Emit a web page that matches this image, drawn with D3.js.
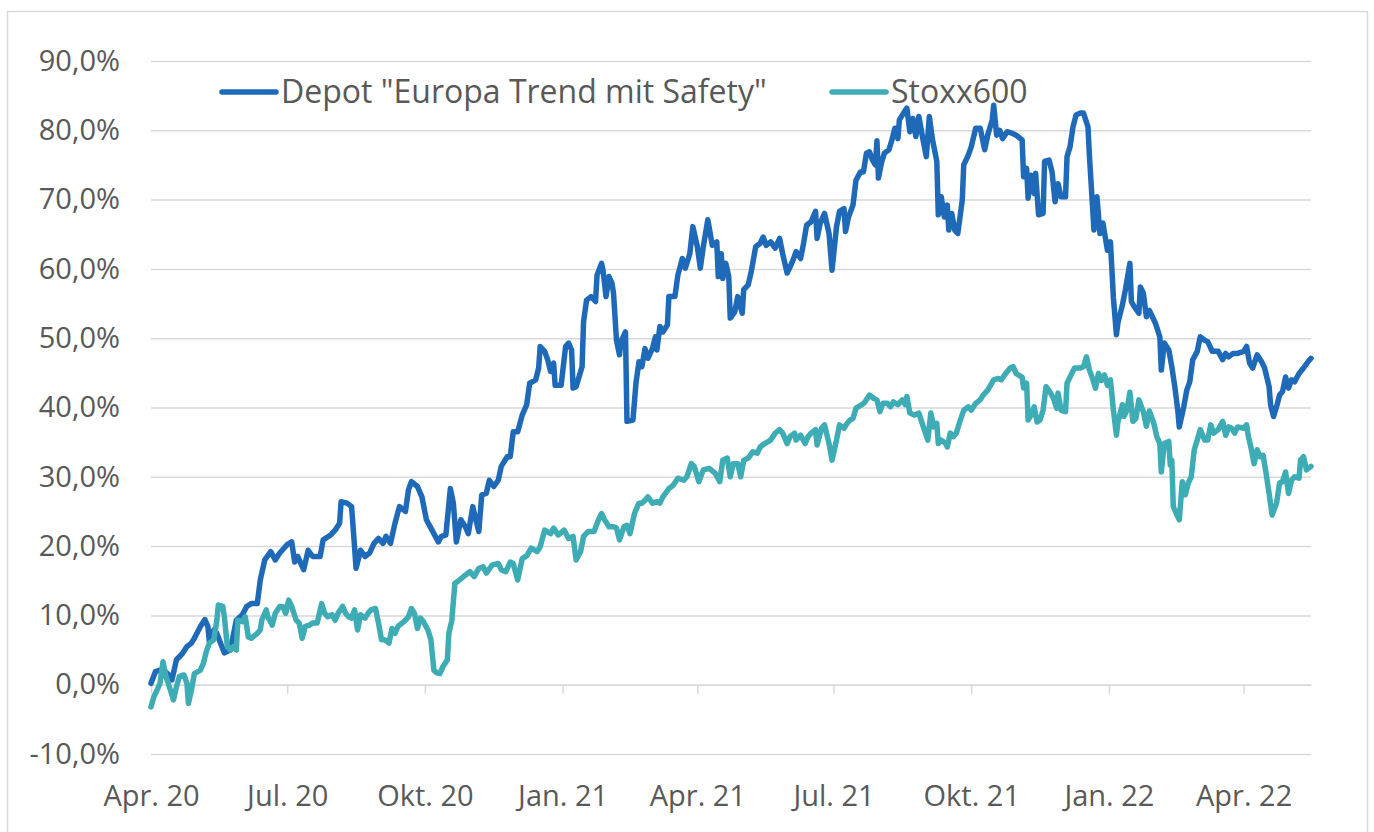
<!DOCTYPE html>
<html>
<head>
<meta charset="utf-8">
<script src="https://cdn.jsdelivr.net/npm/d3@7"></script>
<style>
  body { margin: 0; background: #fff; }
  text { font-family: "Open Sans", sans-serif; fill: #595959; }
</style>
</head>
<body>
<div id="chart"></div>
<script>
// Depot "Europa Trend mit Safety" vs. Stoxx600, performance since Apr. 2020 (in %)
var depotDates = [
"2020-04-01","2020-04-04","2020-04-07","2020-04-09","2020-04-13","2020-04-15","2020-04-18","2020-04-22","2020-04-25","2020-04-28",
"2020-04-30","2020-05-04","2020-05-07","2020-05-09","2020-05-10","2020-05-13","2020-05-15","2020-05-18","2020-05-20","2020-05-24",
"2020-05-28","2020-06-01","2020-06-04","2020-06-07","2020-06-11","2020-06-13","2020-06-16","2020-06-20","2020-06-23","2020-06-26",
"2020-07-01","2020-07-04","2020-07-06","2020-07-08","2020-07-12","2020-07-15","2020-07-18","2020-07-23","2020-07-25","2020-07-30",
"2020-08-02","2020-08-05","2020-08-06","2020-08-10","2020-08-13","2020-08-15","2020-08-16","2020-08-19","2020-08-22","2020-08-25",
"2020-08-28","2020-08-31","2020-09-03","2020-09-05","2020-09-08","2020-09-11","2020-09-14","2020-09-18","2020-09-20","2020-09-22",
"2020-09-26","2020-09-29","2020-10-02","2020-10-07","2020-10-10","2020-10-12","2020-10-15","2020-10-18","2020-10-20","2020-10-22",
"2020-10-25","2020-10-28","2020-10-30","2020-11-02","2020-11-03","2020-11-06","2020-11-08","2020-11-11","2020-11-13","2020-11-16",
"2020-11-19","2020-11-21","2020-11-25","2020-11-27","2020-11-29","2020-12-02","2020-12-05","2020-12-08","2020-12-10","2020-12-14",
"2020-12-16","2020-12-17","2020-12-20","2020-12-22","2020-12-24","2020-12-26","2020-12-27","2020-12-31","2021-01-03","2021-01-05",
"2021-01-07","2021-01-08","2021-01-10","2021-01-14","2021-01-15","2021-01-17","2021-01-20","2021-01-23","2021-01-24","2021-01-27",
"2021-01-28","2021-01-30","2021-02-01","2021-02-03","2021-02-04","2021-02-06","2021-02-08","2021-02-09","2021-02-12","2021-02-13",
"2021-02-17","2021-02-19","2021-02-21","2021-02-23","2021-02-25","2021-02-27","2021-03-02","2021-03-04","2021-03-05","2021-03-07",
"2021-03-09","2021-03-12","2021-03-13","2021-03-17","2021-03-19","2021-03-22","2021-03-24","2021-03-27","2021-03-29","2021-04-01",
"2021-04-03","2021-04-05","2021-04-08","2021-04-11","2021-04-14","2021-04-15","2021-04-17","2021-04-18","2021-04-20","2021-04-22",
"2021-04-23","2021-04-26","2021-04-28","2021-05-01","2021-05-02","2021-05-05","2021-05-07","2021-05-10","2021-05-13","2021-05-15",
"2021-05-17","2021-05-20","2021-05-23","2021-05-26","2021-05-28","2021-05-31","2021-06-02","2021-06-04","2021-06-06","2021-06-09",
"2021-06-11","2021-06-13","2021-06-16","2021-06-19","2021-06-20","2021-06-22","2021-06-25","2021-06-28","2021-06-30","2021-07-03",
"2021-07-05","2021-07-08","2021-07-09","2021-07-11","2021-07-14","2021-07-16","2021-07-19","2021-07-21","2021-07-23","2021-07-25",
"2021-07-27","2021-07-29","2021-07-30","2021-07-31","2021-08-02","2021-08-04","2021-08-07","2021-08-09","2021-08-11","2021-08-13",
"2021-08-14","2021-08-18","2021-08-19","2021-08-21","2021-08-23","2021-08-25","2021-08-27","2021-08-30","2021-09-01","2021-09-03",
"2021-09-05","2021-09-08","2021-09-09","2021-09-11","2021-09-13","2021-09-15","2021-09-16","2021-09-18","2021-09-20","2021-09-22",
"2021-09-25","2021-09-26","2021-09-29","2021-10-01","2021-10-04","2021-10-07","2021-10-10","2021-10-12","2021-10-15","2021-10-16",
"2021-10-18","2021-10-20","2021-10-22","2021-10-25","2021-10-28","2021-10-31","2021-11-04","2021-11-05","2021-11-07","2021-11-08",
"2021-11-10","2021-11-12","2021-11-13","2021-11-15","2021-11-18","2021-11-19","2021-11-22","2021-11-24","2021-11-26","2021-11-28",
"2021-11-30","2021-12-03","2021-12-04","2021-12-06","2021-12-08","2021-12-10","2021-12-13","2021-12-15","2021-12-18","2021-12-19",
"2021-12-22","2021-12-24","2021-12-26","2021-12-28","2021-12-31","2022-01-02","2022-01-04","2022-01-06","2022-01-07","2022-01-10",
"2022-01-12","2022-01-15","2022-01-16","2022-01-18","2022-01-21","2022-01-22","2022-01-24","2022-01-26","2022-01-28","2022-02-01",
"2022-02-04","2022-02-05","2022-02-07","2022-02-10","2022-02-12","2022-02-14","2022-02-16","2022-02-17","2022-02-20","2022-02-22",
"2022-02-24","2022-02-26","2022-03-01","2022-03-03","2022-03-06","2022-03-08","2022-03-11","2022-03-15","2022-03-18","2022-03-20",
"2022-03-22","2022-03-25","2022-03-28","2022-04-01","2022-04-03","2022-04-05","2022-04-07","2022-04-10","2022-04-13","2022-04-15",
"2022-04-18","2022-04-19","2022-04-21","2022-04-23","2022-04-25","2022-04-27","2022-04-29","2022-05-01","2022-05-03","2022-05-05",
"2022-05-08","2022-05-11","2022-05-14","2022-05-16"];

var depotValues = [
0.2,1.9,2.1,2.2,1.4,0.7,3.6,4.5,5.5,6.0,
6.7,8.4,9.4,8.4,6.2,7.9,7.4,5.7,4.6,5.0,
9.3,10.1,11.3,11.7,11.7,15.1,18.0,19.2,18.0,19.0,
20.2,20.6,17.7,18.5,16.6,19.4,18.5,18.5,20.9,21.6,
22.3,23.3,26.4,26.2,25.7,19.9,16.8,19.4,18.5,19.0,
20.4,21.1,20.4,21.4,20.4,23.3,25.7,25.0,28.1,29.3,
28.6,27.1,23.8,21.8,20.6,21.4,21.6,28.3,26.2,20.6,
23.8,22.8,21.8,25.7,24.7,22.1,27.4,27.6,29.5,28.6,
29.5,31.5,32.9,32.9,36.5,36.5,38.9,40.4,43.5,44.0,
45.7,48.8,48.1,46.9,45.2,46.4,43.2,43.2,48.8,49.3,
48.3,42.8,43.0,45.9,52.4,55.5,56.0,55.3,59.1,60.8,
59.8,56.0,58.9,57.9,56.5,49.7,47.6,49.5,50.9,38.0,
38.2,43.5,46.6,45.9,48.5,47.1,48.5,50.2,48.3,51.7,
50.9,51.9,56.0,56.0,59.1,61.5,60.1,62.2,66.1,63.2,
60.1,63.2,67.1,63.4,63.9,58.9,62.2,58.6,60.8,58.9,
52.9,53.8,56.0,53.6,57.0,57.7,59.6,63.2,63.7,64.6,
63.4,63.9,63.0,64.4,62.2,59.4,60.3,61.3,62.5,61.5,
63.7,66.3,66.8,68.3,64.4,66.5,68.0,65.1,59.8,66.1,
68.3,68.7,65.4,67.5,69.2,72.8,74.0,74.0,76.7,76.9,
75.7,75.0,78.5,73.1,75.3,76.7,77.2,78.6,80.3,78.8,
81.5,82.9,83.2,79.8,81.7,79.1,82.0,78.4,76.2,82.0,
78.8,75.5,67.8,70.4,67.5,69.2,65.6,68.0,65.6,65.1,
69.9,75.0,76.4,77.6,80.3,80.3,77.2,79.3,81.5,83.6,
79.3,80.0,78.8,79.8,79.6,79.3,78.6,73.3,74.5,70.2,
73.5,70.9,73.8,67.8,68.0,75.5,75.7,74.0,69.7,72.3,
70.4,70.4,76.2,77.6,80.5,82.2,82.5,82.5,80.5,76.2,
65.6,70.4,65.1,66.6,62.7,63.9,55.8,50.5,52.2,54.8,
57.0,60.8,55.3,54.5,53.6,57.4,56.5,53.1,54.0,52.2,
50.2,45.4,49.3,48.3,45.9,43.0,39.6,37.2,40.1,42.5,
43.7,46.9,48.1,50.2,49.7,49.5,48.1,48.1,46.9,47.8,
47.3,47.8,47.8,48.1,48.8,46.4,45.7,47.6,46.6,45.7,
43.0,40.4,38.7,40.1,41.8,42.3,44.4,42.8,44.0,43.7,
44.9,45.7,46.6,47.1];

var stoxxDates = [
"2020-04-01","2020-04-03","2020-04-05","2020-04-07","2020-04-09","2020-04-11","2020-04-14","2020-04-16","2020-04-18","2020-04-20",
"2020-04-23","2020-04-25","2020-04-26","2020-04-28","2020-04-30","2020-05-04","2020-05-06","2020-05-08","2020-05-10","2020-05-13",
"2020-05-15","2020-05-16","2020-05-19","2020-05-20","2020-05-22","2020-05-24","2020-05-26","2020-05-28","2020-05-29","2020-06-01",
"2020-06-03","2020-06-05","2020-06-07","2020-06-11","2020-06-13","2020-06-14","2020-06-17","2020-06-18","2020-06-21","2020-06-23",
"2020-06-26","2020-06-28","2020-06-30","2020-07-02","2020-07-04","2020-07-07","2020-07-09","2020-07-11","2020-07-13","2020-07-16",
"2020-07-18","2020-07-21","2020-07-24","2020-07-26","2020-07-28","2020-07-31","2020-08-02","2020-08-04","2020-08-07","2020-08-09",
"2020-08-11","2020-08-13","2020-08-15","2020-08-17","2020-08-19","2020-08-22","2020-08-24","2020-08-26","2020-08-29","2020-08-31",
"2020-09-02","2020-09-04","2020-09-07","2020-09-09","2020-09-11","2020-09-13","2020-09-17","2020-09-20","2020-09-22","2020-09-24",
"2020-09-26","2020-09-28","2020-09-30","2020-10-03","2020-10-05","2020-10-07","2020-10-09","2020-10-11","2020-10-13","2020-10-16",
"2020-10-17","2020-10-19","2020-10-21","2020-10-24","2020-10-28","2020-10-31","2020-11-03","2020-11-06","2020-11-09","2020-11-11",
"2020-11-15","2020-11-19","2020-11-21","2020-11-24","2020-11-27","2020-11-29","2020-12-02","2020-12-05","2020-12-08","2020-12-11",
"2020-12-15","2020-12-17","2020-12-20","2020-12-24","2020-12-26","2020-12-29","2021-01-02","2021-01-05","2021-01-08","2021-01-10",
"2021-01-13","2021-01-15","2021-01-18","2021-01-22","2021-01-25","2021-01-27","2021-01-29","2021-02-01","2021-02-04","2021-02-06",
"2021-02-08","2021-02-11","2021-02-13","2021-02-15","2021-02-18","2021-02-21","2021-02-23","2021-02-25","2021-02-27","2021-03-02",
"2021-03-05","2021-03-07","2021-03-09","2021-03-13","2021-03-16","2021-03-19","2021-03-23","2021-03-25","2021-03-28","2021-03-30",
"2021-04-02","2021-04-05","2021-04-09","2021-04-13","2021-04-16","2021-04-18","2021-04-21","2021-04-23","2021-04-25","2021-04-28",
"2021-04-30","2021-05-02","2021-05-05","2021-05-08","2021-05-11","2021-05-13","2021-05-16","2021-05-20","2021-05-23","2021-05-26",
"2021-05-28","2021-05-31","2021-06-02","2021-06-05","2021-06-06","2021-06-09","2021-06-12","2021-06-14","2021-06-16","2021-06-19",
"2021-06-20","2021-06-23","2021-06-25","2021-06-28","2021-06-30","2021-07-03","2021-07-05","2021-07-08","2021-07-10","2021-07-12",
"2021-07-14","2021-07-16","2021-07-20","2021-07-22","2021-07-25","2021-07-28","2021-07-30","2021-08-01","2021-08-03","2021-08-06",
"2021-08-08","2021-08-10","2021-08-13","2021-08-16","2021-08-18","2021-08-19","2021-08-21","2021-08-24","2021-08-27","2021-08-30",
"2021-09-02","2021-09-04","2021-09-06","2021-09-08","2021-09-09","2021-09-11","2021-09-14","2021-09-15","2021-09-17","2021-09-19",
"2021-09-21","2021-09-23","2021-09-26","2021-09-29","2021-10-01","2021-10-04","2021-10-07","2021-10-09","2021-10-12","2021-10-16",
"2021-10-19","2021-10-21","2021-10-24","2021-10-27","2021-10-29","2021-10-31","2021-11-04","2021-11-05","2021-11-07","2021-11-08",
"2021-11-10","2021-11-12","2021-11-14","2021-11-16","2021-11-18","2021-11-20","2021-11-23","2021-11-25","2021-11-27","2021-11-28",
"2021-11-30","2021-12-03","2021-12-04","2021-12-06","2021-12-09","2021-12-13","2021-12-15","2021-12-17","2021-12-19","2021-12-21",
"2021-12-23","2021-12-25","2021-12-27","2021-12-29","2021-12-31","2022-01-02","2022-01-04","2022-01-06","2022-01-07","2022-01-10",
"2022-01-11","2022-01-13","2022-01-15","2022-01-17","2022-01-19","2022-01-21","2022-01-24","2022-01-26","2022-01-28","2022-01-31",
"2022-02-02","2022-02-04","2022-02-05","2022-02-07","2022-02-10","2022-02-11","2022-02-12","2022-02-13","2022-02-15","2022-02-17",
"2022-02-19","2022-02-21","2022-02-23","2022-02-25","2022-02-27","2022-03-01","2022-03-03","2022-03-06","2022-03-08","2022-03-10",
"2022-03-12","2022-03-15","2022-03-18","2022-03-20","2022-03-22","2022-03-24","2022-03-26","2022-03-28","2022-04-01","2022-04-03",
"2022-04-04","2022-04-06","2022-04-08","2022-04-10","2022-04-12","2022-04-14","2022-04-16","2022-04-18","2022-04-20","2022-04-23",
"2022-04-25","2022-04-27","2022-04-29","2022-05-01","2022-05-03","2022-05-05","2022-05-08","2022-05-09","2022-05-11","2022-05-13",
"2022-05-16"];

var stoxxValues = [
-3.2,-1.7,-0.8,0.2,3.3,1.2,-0.8,-2.2,-0.3,1.2,
1.4,0.2,-2.7,-0.8,1.6,2.1,3.1,4.8,6.0,6.5,
9.3,11.5,11.3,9.8,5.5,5.0,5.5,5.0,9.3,9.1,
9.8,6.9,6.7,7.4,7.9,9.3,10.8,9.8,8.6,10.3,
11.3,11.3,10.3,12.2,11.3,9.3,8.9,6.7,8.4,8.6,
8.9,8.9,11.7,10.3,9.8,10.1,9.3,10.3,11.3,10.3,
9.8,9.6,10.8,7.9,10.1,9.6,10.3,10.8,11.0,8.9,
6.5,6.5,6.0,8.1,7.4,8.4,9.1,9.8,11.0,10.3,
8.1,9.6,9.1,7.9,6.5,2.1,1.7,1.6,2.6,3.6,
7.4,9.3,14.6,15.1,15.8,16.3,15.6,16.8,17.0,16.1,
17.3,17.5,16.6,16.3,17.7,17.5,15.1,18.2,18.6,19.7,
19.2,19.9,22.3,21.8,22.6,21.6,22.3,21.1,21.4,18.0,
19.2,21.4,22.1,22.1,23.8,24.7,23.8,22.8,22.8,22.6,
20.9,22.8,23.0,21.8,24.7,26.2,26.2,26.6,27.1,26.2,
26.4,26.2,27.1,28.3,28.8,29.8,29.5,30.0,31.9,31.5,
29.3,31.0,31.2,30.5,29.3,32.4,32.7,30.0,31.9,31.9,
30.0,32.4,32.7,33.6,33.4,34.3,34.8,35.3,36.3,36.8,
36.3,34.8,35.8,36.3,35.3,36.0,34.8,35.8,36.3,36.8,
34.6,37.0,37.5,34.8,32.4,35.3,37.5,37.0,37.7,38.2,
38.4,39.9,40.4,40.8,41.8,41.3,41.1,39.4,40.6,40.6,
40.1,40.8,40.4,41.1,40.4,41.6,39.2,38.9,39.2,37.2,
35.3,39.2,37.2,37.7,34.8,35.3,34.8,34.3,36.3,35.8,
36.3,37.7,39.6,40.1,39.6,40.6,41.1,41.8,42.5,44.0,
44.2,44.0,44.9,45.7,45.9,44.9,44.4,42.8,43.5,38.2,
38.9,40.1,37.9,38.2,39.6,43.0,42.1,41.3,39.9,42.1,
39.6,39.4,43.5,44.4,45.7,45.7,45.9,47.3,45.4,44.2,
42.8,44.9,43.9,44.7,43.2,44.0,39.6,36.0,37.9,40.4,
38.7,39.6,42.2,38.0,38.4,41.1,39.4,37.3,39.5,37.7,
35.8,34.8,30.7,34.8,35.1,31.7,32.4,25.7,24.7,23.8,
29.3,27.4,29.1,30.0,33.9,35.3,36.8,35.3,35.3,37.5,
36.3,36.8,38.0,36.0,37.2,37.0,36.3,37.2,37.0,37.5,
36.0,34.1,31.9,33.9,32.9,33.1,30.5,27.6,24.5,26.2,
29.1,29.3,30.7,27.6,29.5,30.0,29.8,32.4,32.9,31.0,
31.5];

var seriesNames = ['Depot "Europa Trend mit Safety"', "Stoxx600"];
var seriesColors = ["#1f69b9", "#3eacb5"];
var yTicks = [-10, 0, 10, 20, 30, 40, 50, 60, 70, 80, 90];
var xTickDates = ["2020-04-01","2020-07-01","2020-10-01","2021-01-01","2021-04-01","2021-07-01","2021-10-01","2022-01-01","2022-04-01"];
var xTickLabels = ["Apr. 20","Jul. 20","Okt. 20","Jan. 21","Apr. 21","Jul. 21","Okt. 21","Jan. 22","Apr. 22"];

var parseDate = d3.utcParse("%Y-%m-%d");
var depot = depotDates.map(function (d, i) { return { date: parseDate(d), value: depotValues[i] }; });
var stoxx = stoxxDates.map(function (d, i) { return { date: parseDate(d), value: stoxxValues[i] }; });

var W = 1374, H = 832;
var margin = { top: 61, right: 63, bottom: 78, left: 151 };
var width = W - margin.left - margin.right,
    height = H - margin.top - margin.bottom;

var svg = d3.select("#chart").append("svg")
  .attr("width", W).attr("height", H);

// outer frame
svg.append("rect")
  .attr("x", 7.5).attr("y", 11.5)
  .attr("width", 1360).attr("height", 840)
  .attr("fill", "#fff")
  .attr("stroke", "#d9d9d9").attr("stroke-width", 1.5);

var g = svg.append("g").attr("transform", "translate(" + margin.left + "," + margin.top + ")");

var x = d3.scaleUtc()
  .domain([parseDate("2020-04-01"), parseDate("2022-05-16")])
  .range([0, width]);

var y = d3.scaleLinear()
  .domain([-10, 90])
  .range([height, 0]);

var locale = d3.formatLocale({ decimal: ",", thousands: ".", grouping: [3], currency: ["", " €"], minus: "-" });
var fmt = locale.format(".1f");

// y axis + gridlines
var yAxis = g.append("g")
  .call(d3.axisLeft(y).tickValues(yTicks).tickSize(-width).tickPadding(31)
    .tickFormat(function (d) { return fmt(d) + "%"; }));
yAxis.select(".domain").remove();
yAxis.selectAll(".tick line").attr("stroke", "#d9d9d9").attr("stroke-width", 1.5);
yAxis.selectAll(".tick text")
  .attr("font-size", 29).attr("font-family", "'Open Sans', sans-serif").attr("fill", "#595959");

// tick marks on the 0% line
var xTickAxis = g.append("g")
  .attr("transform", "translate(0," + y(0) + ")")
  .call(d3.axisBottom(x).tickValues(xTickDates.map(parseDate)).tickSizeInner(9).tickSizeOuter(0).tickFormat(""));
xTickAxis.select(".domain").attr("stroke", "#d9d9d9").attr("stroke-width", 1.5);
xTickAxis.selectAll(".tick line").attr("stroke", "#d9d9d9").attr("stroke-width", 1.5);

// x labels at the bottom
var xLabelAxis = g.append("g")
  .attr("transform", "translate(0," + height + ")")
  .call(d3.axisBottom(x).tickValues(xTickDates.map(parseDate)).tickSize(0).tickPadding(31)
    .tickFormat(function (d, i) { return xTickLabels[i]; }));
xLabelAxis.select(".domain").remove();
xLabelAxis.selectAll(".tick text")
  .attr("font-size", 29).attr("font-family", "'Open Sans', sans-serif").attr("fill", "#595959");

var line = d3.line()
  .x(function (d) { return x(d.date); })
  .y(function (d) { return y(d.value); });

[depot, stoxx].forEach(function (series, i) {
  g.append("path")
    .datum(series)
    .attr("fill", "none")
    .attr("stroke", seriesColors[i])
    .attr("stroke-width", 5.5)
    .attr("stroke-linejoin", "round")
    .attr("stroke-linecap", "round")
    .attr("d", line);
});

// legend
var legendX = [222, 832];
var legend = svg.append("g")
  .selectAll("g")
  .data(seriesNames)
  .enter().append("g")
  .attr("transform", function (d, i) { return "translate(" + legendX[i] + ",92)"; });

legend.append("line")
  .attr("x1", 0).attr("x2", 54)
  .attr("stroke", function (d, i) { return seriesColors[i]; })
  .attr("stroke-width", 5.5)
  .attr("stroke-linecap", "round");

legend.append("text")
  .attr("x", 59)
  .attr("dy", "0.35em")
  .attr("font-size", 32)
  .text(function (d) { return d; });
</script>
</body>
</html>
